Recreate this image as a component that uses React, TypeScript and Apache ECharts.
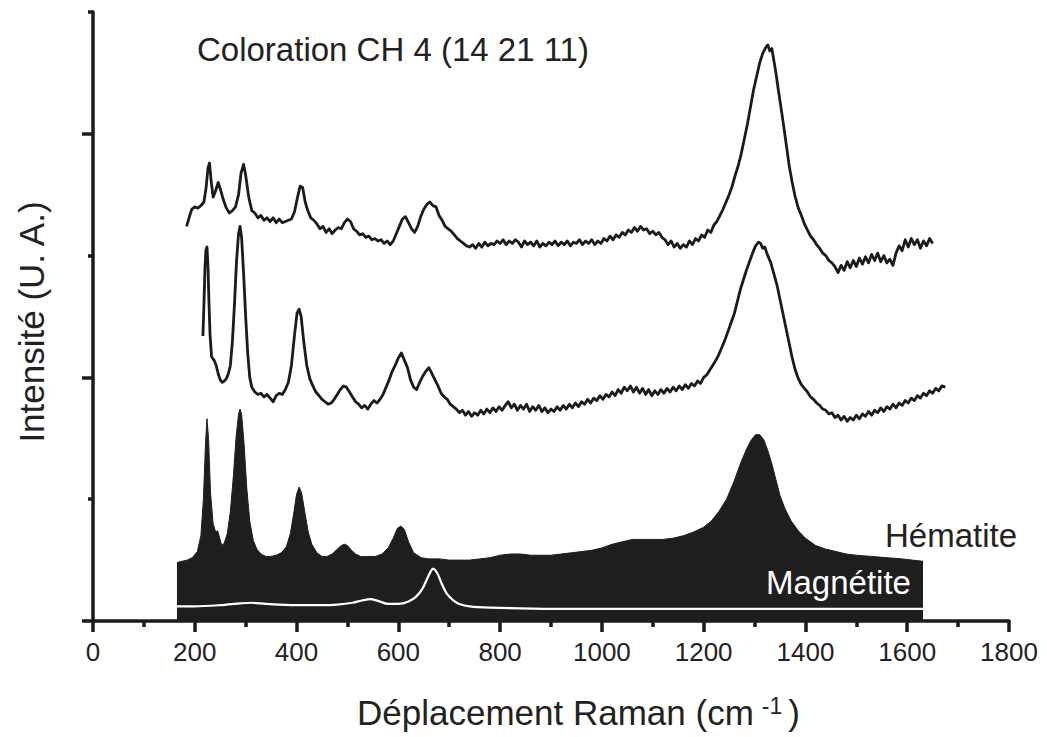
import React, { useEffect, useRef } from "react";
import * as echarts from "echarts";

// Raman shift (cm-1) / intensity (arbitrary units) pairs
const spectrumTop: number[][] = [
  [184, 3.24], [188, 3.30], [194, 3.38], [200, 3.40], [206, 3.39], [212, 3.41], [218, 3.44], [222, 3.55],
  [226, 3.72], [229, 3.76], [232, 3.62], [236, 3.48], [240, 3.52], [246, 3.60], [250, 3.55], [256, 3.46],
  [262, 3.39], [268, 3.35], [274, 3.37], [280, 3.40], [286, 3.50], [291, 3.68], [296, 3.75], [300, 3.66],
  [306, 3.48], [312, 3.37], [318, 3.35], [324, 3.31], [330, 3.33], [336, 3.29], [342, 3.31], [348, 3.28],
  [354, 3.31], [360, 3.27], [366, 3.30], [372, 3.27], [378, 3.28], [384, 3.29], [390, 3.30], [396, 3.36],
  [402, 3.48], [407, 3.57], [412, 3.56], [417, 3.44], [422, 3.37], [428, 3.31], [434, 3.29], [440, 3.26],
  [446, 3.22], [452, 3.24], [458, 3.19], [464, 3.22], [470, 3.18], [476, 3.21], [482, 3.23], [488, 3.22],
  [494, 3.27], [500, 3.30], [506, 3.28], [512, 3.22], [518, 3.20], [524, 3.17], [530, 3.18], [536, 3.15],
  [542, 3.16], [548, 3.13], [554, 3.14], [560, 3.12], [566, 3.13], [572, 3.10], [578, 3.12], [584, 3.09],
  [590, 3.12], [596, 3.18], [602, 3.24], [608, 3.30], [614, 3.32], [620, 3.27], [626, 3.22], [632, 3.19],
  [638, 3.24], [644, 3.32], [650, 3.38], [656, 3.42], [662, 3.44], [668, 3.41], [674, 3.40], [680, 3.33],
  [686, 3.29], [692, 3.24], [698, 3.22], [704, 3.20], [710, 3.17], [716, 3.14], [722, 3.12], [728, 3.10],
  [734, 3.08], [740, 3.07], [746, 3.09], [752, 3.06], [758, 3.10], [764, 3.07], [770, 3.11], [776, 3.08],
  [782, 3.10], [788, 3.09], [794, 3.12], [800, 3.10], [806, 3.13], [812, 3.09], [818, 3.12], [824, 3.10],
  [830, 3.13], [836, 3.11], [842, 3.07], [848, 3.12], [854, 3.09], [860, 3.11], [866, 3.08], [872, 3.12],
  [878, 3.07], [884, 3.10], [890, 3.08], [896, 3.11], [902, 3.09], [908, 3.12], [914, 3.08], [920, 3.11],
  [926, 3.09], [932, 3.12], [938, 3.08], [944, 3.11], [950, 3.10], [956, 3.13], [962, 3.09], [968, 3.12],
  [974, 3.10], [980, 3.13], [986, 3.09], [992, 3.12], [998, 3.10], [1004, 3.14], [1010, 3.12], [1016, 3.16],
  [1022, 3.13], [1028, 3.17], [1034, 3.15], [1040, 3.19], [1046, 3.17], [1052, 3.21], [1058, 3.19], [1064, 3.23],
  [1070, 3.20], [1076, 3.24], [1082, 3.21], [1088, 3.22], [1094, 3.18], [1100, 3.20], [1106, 3.17], [1112, 3.19],
  [1118, 3.15], [1124, 3.13], [1130, 3.09], [1136, 3.12], [1142, 3.07], [1148, 3.10], [1154, 3.06], [1160, 3.09],
  [1166, 3.07], [1172, 3.12], [1178, 3.09], [1184, 3.14], [1190, 3.12], [1196, 3.17], [1202, 3.15], [1208, 3.21],
  [1214, 3.19], [1220, 3.25], [1226, 3.28], [1232, 3.33], [1238, 3.38], [1244, 3.44], [1250, 3.50], [1256, 3.57],
  [1262, 3.66], [1268, 3.74], [1274, 3.84], [1280, 3.96], [1286, 4.08], [1292, 4.22], [1298, 4.36], [1304, 4.47],
  [1310, 4.58], [1316, 4.66], [1322, 4.71], [1326, 4.73], [1330, 4.68], [1334, 4.70], [1338, 4.60], [1342, 4.50],
  [1346, 4.38], [1350, 4.27], [1356, 4.10], [1362, 3.92], [1368, 3.74], [1374, 3.60], [1380, 3.48], [1386, 3.39],
  [1392, 3.33], [1398, 3.26], [1404, 3.21], [1410, 3.16], [1416, 3.13], [1422, 3.09], [1428, 3.06], [1434, 3.02],
  [1440, 3.00], [1446, 2.96], [1452, 2.94], [1458, 2.91], [1464, 2.86], [1470, 2.92], [1476, 2.88], [1482, 2.95],
  [1488, 2.90], [1494, 2.96], [1500, 2.91], [1506, 2.98], [1512, 2.93], [1518, 2.99], [1524, 2.94], [1530, 3.01],
  [1536, 2.96], [1542, 3.02], [1548, 2.95], [1554, 3.00], [1560, 2.94], [1566, 2.97], [1572, 2.92], [1578, 3.02],
  [1584, 3.08], [1590, 3.04], [1596, 3.13], [1602, 3.07], [1608, 3.14], [1614, 3.09], [1620, 3.13], [1626, 3.06],
  [1632, 3.12], [1638, 3.08], [1644, 3.14], [1650, 3.10],
];

const spectrumMiddle: number[][] = [
  [216, 2.34], [218, 2.60], [220, 2.90], [222, 3.05], [224, 3.07], [226, 2.90], [228, 2.60], [230, 2.35],
  [233, 2.17], [238, 2.14], [242, 2.10], [246, 2.03], [250, 1.98], [254, 1.96], [258, 1.97], [262, 1.99],
  [266, 2.03], [270, 2.10], [274, 2.30], [278, 2.60], [282, 2.95], [286, 3.18], [289, 3.24], [292, 3.15],
  [296, 2.85], [300, 2.50], [304, 2.20], [308, 2.00], [312, 1.92], [318, 1.88], [324, 1.86], [330, 1.87],
  [336, 1.84], [342, 1.86], [348, 1.83], [354, 1.80], [360, 1.85], [366, 1.87], [372, 1.86], [378, 1.90],
  [384, 1.96], [390, 2.10], [396, 2.35], [401, 2.53], [405, 2.56], [409, 2.50], [414, 2.30], [420, 2.10],
  [426, 1.99], [432, 1.93], [438, 1.88], [444, 1.85], [450, 1.82], [456, 1.80], [462, 1.78], [468, 1.79],
  [474, 1.82], [480, 1.86], [486, 1.90], [492, 1.93], [498, 1.92], [504, 1.88], [510, 1.84], [516, 1.80],
  [522, 1.78], [528, 1.75], [534, 1.77], [540, 1.74], [546, 1.78], [552, 1.81], [558, 1.79], [564, 1.82],
  [570, 1.86], [576, 1.92], [582, 1.98], [588, 2.05], [594, 2.10], [600, 2.16], [606, 2.20], [612, 2.14],
  [618, 2.08], [624, 1.98], [630, 1.92], [636, 1.90], [642, 1.96], [648, 2.01], [654, 2.05], [660, 2.08],
  [666, 2.03], [672, 1.98], [678, 1.93], [684, 1.87], [690, 1.84], [696, 1.82], [702, 1.78], [708, 1.76],
  [714, 1.74], [720, 1.71], [726, 1.73], [732, 1.69], [738, 1.72], [744, 1.68], [750, 1.71], [756, 1.69],
  [762, 1.73], [768, 1.70], [774, 1.74], [780, 1.71], [786, 1.75], [792, 1.72], [798, 1.76], [804, 1.73],
  [810, 1.77], [816, 1.80], [822, 1.75], [828, 1.78], [834, 1.73], [840, 1.77], [846, 1.74], [852, 1.78],
  [858, 1.72], [864, 1.76], [870, 1.73], [876, 1.77], [882, 1.72], [888, 1.75], [894, 1.71], [900, 1.74],
  [906, 1.72], [912, 1.76], [918, 1.73], [924, 1.77], [930, 1.74], [936, 1.78], [942, 1.75], [948, 1.79],
  [954, 1.76], [960, 1.80], [966, 1.78], [972, 1.82], [978, 1.79], [984, 1.83], [990, 1.81], [996, 1.85],
  [1002, 1.82], [1008, 1.86], [1014, 1.84], [1020, 1.88], [1026, 1.85], [1032, 1.90], [1038, 1.87], [1044, 1.92],
  [1050, 1.89], [1056, 1.93], [1062, 1.88], [1068, 1.92], [1074, 1.87], [1080, 1.91], [1086, 1.86], [1092, 1.90],
  [1098, 1.85], [1104, 1.89], [1110, 1.86], [1116, 1.90], [1122, 1.87], [1128, 1.91], [1134, 1.88], [1140, 1.92],
  [1146, 1.89], [1152, 1.93], [1158, 1.90], [1164, 1.94], [1170, 1.91], [1176, 1.95], [1182, 1.93], [1188, 1.97],
  [1194, 1.95], [1200, 2.00], [1206, 2.02], [1212, 2.06], [1218, 2.10], [1224, 2.14], [1230, 2.19], [1236, 2.25],
  [1242, 2.31], [1248, 2.38], [1254, 2.45], [1260, 2.52], [1266, 2.62], [1272, 2.72], [1278, 2.80], [1284, 2.88],
  [1290, 2.95], [1296, 3.02], [1302, 3.08], [1308, 3.11], [1312, 3.10], [1316, 3.06], [1320, 3.07], [1326, 3.00],
  [1332, 2.94], [1338, 2.85], [1344, 2.76], [1350, 2.64], [1356, 2.52], [1362, 2.40], [1368, 2.28], [1374, 2.16],
  [1380, 2.06], [1386, 1.99], [1392, 1.94], [1398, 1.91], [1404, 1.88], [1410, 1.84], [1416, 1.82], [1422, 1.79],
  [1428, 1.77], [1434, 1.74], [1440, 1.73], [1446, 1.70], [1452, 1.71], [1458, 1.67], [1464, 1.69], [1470, 1.65],
  [1476, 1.68], [1482, 1.64], [1488, 1.67], [1494, 1.65], [1500, 1.69], [1506, 1.66], [1512, 1.70], [1518, 1.68],
  [1524, 1.72], [1530, 1.69], [1536, 1.73], [1542, 1.71], [1548, 1.75], [1554, 1.72], [1560, 1.76], [1566, 1.74],
  [1572, 1.78], [1578, 1.75], [1584, 1.79], [1590, 1.77], [1596, 1.81], [1602, 1.79], [1608, 1.83], [1614, 1.81],
  [1620, 1.85], [1626, 1.83], [1632, 1.87], [1638, 1.85], [1644, 1.89], [1650, 1.87], [1656, 1.91], [1662, 1.89],
  [1668, 1.93], [1675, 1.92],
];

const hematite: number[][] = [
  [165, 0.48], [175, 0.49], [185, 0.50], [195, 0.52], [205, 0.57], [212, 0.70], [217, 1.00], [221, 1.45],
  [224, 1.66], [227, 1.50], [231, 1.05], [236, 0.80], [241, 0.73], [245, 0.74], [249, 0.68], [253, 0.62],
  [258, 0.64], [264, 0.72], [270, 0.90], [276, 1.20], [281, 1.50], [286, 1.70], [289, 1.74], [292, 1.70],
  [297, 1.45], [302, 1.10], [308, 0.82], [315, 0.66], [322, 0.59], [330, 0.55], [340, 0.53], [350, 0.53],
  [360, 0.54], [370, 0.56], [380, 0.61], [388, 0.72], [395, 0.90], [400, 1.04], [405, 1.10], [410, 1.05],
  [416, 0.90], [423, 0.73], [430, 0.63], [440, 0.56], [450, 0.53], [460, 0.53], [470, 0.55], [480, 0.59],
  [488, 0.62], [494, 0.63], [500, 0.62], [508, 0.58], [516, 0.55], [526, 0.53], [540, 0.53], [555, 0.53],
  [568, 0.55], [580, 0.60], [590, 0.68], [598, 0.76], [605, 0.78], [612, 0.75], [620, 0.65], [630, 0.56],
  [645, 0.52], [660, 0.51], [680, 0.51], [700, 0.50], [720, 0.50], [740, 0.50], [760, 0.51], [780, 0.52],
  [800, 0.54], [820, 0.55], [840, 0.55], [860, 0.54], [880, 0.54], [900, 0.54], [920, 0.55], [940, 0.56],
  [960, 0.57], [980, 0.58], [1000, 0.60], [1020, 0.63], [1040, 0.65], [1060, 0.67], [1080, 0.67], [1100, 0.67],
  [1120, 0.67], [1140, 0.68], [1160, 0.70], [1180, 0.73], [1200, 0.77], [1215, 0.82], [1230, 0.90], [1245, 1.00],
  [1260, 1.15], [1272, 1.29], [1284, 1.41], [1294, 1.49], [1302, 1.53], [1310, 1.53], [1318, 1.49], [1326, 1.40],
  [1334, 1.29], [1342, 1.16], [1350, 1.03], [1360, 0.92], [1372, 0.82], [1386, 0.74], [1400, 0.68], [1420, 0.62],
  [1440, 0.59], [1460, 0.57], [1480, 0.55], [1500, 0.54], [1530, 0.53], [1560, 0.52], [1590, 0.51], [1610, 0.50],
  [1631, 0.49],
];

const magnetite: number[][] = [
  [165, 0.12], [200, 0.12], [250, 0.13], [290, 0.145], [310, 0.15], [340, 0.14], [400, 0.13], [450, 0.13],
  [480, 0.135], [510, 0.15], [530, 0.17], [545, 0.18], [560, 0.165], [580, 0.14], [600, 0.14], [620, 0.16],
  [635, 0.20], [648, 0.27], [658, 0.36], [664, 0.41], [668, 0.43], [672, 0.42], [678, 0.38], [686, 0.30],
  [696, 0.22], [708, 0.17], [720, 0.14], [740, 0.12], [780, 0.11], [900, 0.10], [1100, 0.10], [1300, 0.10],
  [1500, 0.10], [1620, 0.10], [1631, 0.10],
];

const xTickValues = [0, 200, 400, 600, 800, 1000, 1200, 1400, 1600, 1800];
const yMajorTicks = [0, 2, 4];
const yMinorTicks = [1, 3, 5];

const titleText = "Coloration CH 4 (14 21 11)";
const hematiteLabel = "Hématite";
const magnetiteLabel = "Magnétite";
const xTitle = "Déplacement Raman (cm";
const yTitle = "Intensité (U. A.)";

const INK = "#1b1b1b";
const FONT = "'Liberation Sans', Arial, Helvetica, sans-serif";

export default function App() {
  const ref = useRef<HTMLDivElement>(null);
  useEffect(() => {
    if (!ref.current) return;
    const chart = echarts.init(ref.current, undefined, { renderer: "svg" });
    const lineSeries = (data: number[][], z: number) => ({
      type: "line",
      data,
      showSymbol: false,
      symbol: "none",
      z,
      lineStyle: { color: INK, width: 2.8, join: "round" },
      silent: true,
    });
    chart.setOption({
      animation: false,
      backgroundColor: "#ffffff",
      grid: { left: 93, right: 38, top: 12, bottom: 116, containLabel: false, outerBoundsMode: "none" },
      xAxis: {
        type: "value",
        min: 0,
        max: 1800,
        interval: 200,
        axisLine: { show: true, onZero: false, lineStyle: { color: INK, width: 3.5 } },
        axisTick: { show: true, length: 11, lineStyle: { color: INK, width: 3.5 } },
        minorTick: { show: true, splitNumber: 2, length: 6, lineStyle: { color: INK, width: 3.5 } },
        splitLine: { show: false },
        minorSplitLine: { show: false },
        axisLabel: {
          show: true,
          margin: 18,
          fontSize: 26,
          color: "#222",
          fontFamily: FONT,
          customValues: xTickValues,
          formatter: (v: number) => String(v),
        },
      },
      yAxis: [
        {
          type: "value",
          min: 0,
          max: 5,
          interval: 1,
          position: "left",
          axisLine: { show: true, onZero: false, lineStyle: { color: INK, width: 3.5 } },
          axisTick: { show: true, length: 11, customValues: yMajorTicks, lineStyle: { color: INK, width: 3.5 } },
          axisLabel: { show: false },
          splitLine: { show: false },
        },
        {
          type: "value",
          min: 0,
          max: 5,
          interval: 1,
          position: "left",
          axisLine: { show: false },
          axisTick: { show: true, length: 5, customValues: yMinorTicks, lineStyle: { color: INK, width: 3.5 } },
          axisLabel: { show: false },
          splitLine: { show: false },
        },
      ],
      series: [
        {
          type: "line",
          data: hematite,
          showSymbol: false,
          symbol: "none",
          z: 2,
          silent: true,
          lineStyle: { color: "#1e1e1e", width: 1 },
          areaStyle: { color: "#1e1e1e", opacity: 1, origin: "start" },
        },
        {
          type: "line",
          data: magnetite,
          showSymbol: false,
          symbol: "none",
          z: 3,
          silent: true,
          smooth: 0.3,
          lineStyle: { color: "#ffffff", width: 2.2 },
        },
        lineSeries(spectrumMiddle, 4),
        lineSeries(spectrumTop, 4),
      ],
      graphic: [
        {
          type: "text",
          left: 197,
          top: 33,
          style: { text: titleText, fontSize: 33, fontFamily: FONT, fill: "#222" },
        },
        {
          type: "text",
          left: 885,
          top: 519,
          z: 10,
          style: { text: hematiteLabel, fontSize: 33, fontFamily: FONT, fill: "#222" },
        },
        {
          type: "text",
          left: 766,
          top: 566,
          z: 10,
          style: { text: magnetiteLabel, fontSize: 33, fontFamily: FONT, fill: "#ffffff" },
        },
        {
          type: "text",
          left: 357,
          top: 694,
          style: {
            text: xTitle + "{sup|-1}{p|)}",
            fontSize: 35,
            fontFamily: FONT,
            fill: "#222",
            rich: {
              sup: { fontSize: 23, fontFamily: FONT, fill: "#222", verticalAlign: "top", padding: [0, 6, 14, 8] },
              p: { fontSize: 35, fontFamily: FONT, fill: "#222" },
            },
          },
        },
        {
          type: "text",
          x: 31,
          y: 322,
          rotation: Math.PI / 2,
          style: {
            text: yTitle,
            fontSize: 35,
            fontFamily: FONT,
            fill: "#222",
            align: "center",
            verticalAlign: "middle",
          },
        },
      ],
    });
    return () => chart.dispose();
  }, []);
  return (
    <div
      ref={ref}
      style={{ position: "fixed", left: 0, top: 0, width: 1047, height: 737, background: "#fff" }}
    />
  );
}
